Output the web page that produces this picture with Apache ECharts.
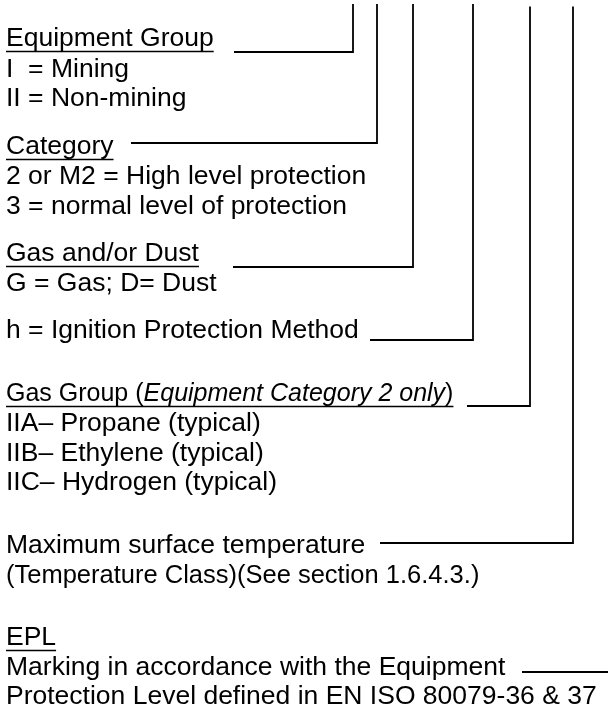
<!DOCTYPE html>
<html><head><meta charset="utf-8">
<script src="https://cdn.jsdelivr.net/npm/echarts@6/dist/echarts.min.js"></script>
<style>html,body{margin:0;padding:0;background:#fff}#main{width:608px;height:713px}</style>
</head><body><div id="main"></div>
<script>
// ---- diagram content ----
const rowTexts = [
  'Equipment Group',
  'I  = Mining',
  'II = Non-mining',
  'Category',
  '2 or M2 = High level protection',
  '3 = normal level of protection',
  'Gas and/or Dust',
  'G = Gas; D= Dust',
  'h = Ignition Protection Method',
  'Gas Group (Equipment Category 2 only)',
  'IIA\u2013 Propane (typical)',
  'IIB\u2013 Ethylene (typical)',
  'IIC\u2013 Hydrogen (typical)',
  'Maximum surface temperature',
  '(Temperature Class)(See section 1.6.4.3.)',
  'EPL',
  'Marking in accordance with the Equipment',
  'Protection Level defined in EN ISO 80079-36 & 37'
];
// text baselines in diagram units (0..713, top-down)
const rowBaselines = [48, 78.5, 107.5, 156, 186, 216, 263, 293, 340, 403, 433, 462.5, 492, 555, 585, 647, 677, 706];
const underlinedRows = [0, 3, 6, 9, 15];
const italicPhrases = ['Equipment Category 2 only'];
// leader lines: vertical from the top, then horizontal to the label
const connectorPaths = [
  [[353, 4], [353, 52], [234, 52]],
  [[377, 4], [377, 143], [131, 143]],
  [[413, 4], [413, 267], [233, 267]],
  [[473, 4], [473, 340], [370, 340]],
  [[530, 6.5], [530, 406], [467, 406]],
  [[573, 6.5], [573, 543], [380, 543]],
  [[522, 672], [608, 672]]
];

// ---- rendering ----
const FONT_SIZE = 26.5;
const SMALL_ROW_SIZE = { 9: 25, 14: 25.5 };
const FONT_FAMILY = '"Liberation Sans", Arial, sans-serif';
const TEXT_X = 6;
const measureCtx = document.createElement('canvas').getContext('2d');
function measure(str, size, italic) {
  measureCtx.font = (italic ? 'italic ' : '') + size + 'px ' + FONT_FAMILY;
  return measureCtx.measureText(str).width;
}
function buildRich(text, size) {
  for (const ph of italicPhrases) {
    const k = text.indexOf(ph);
    if (k >= 0) {
      const a = text.slice(0, k), b = text.slice(k + ph.length);
      return {
        str: '{n|' + a + '}{i|' + ph + '}{n|' + b + '}',
        width: measure(a, size) + measure(ph, size, true) + measure(b, size),
        rich: true
      };
    }
  }
  return { str: text, width: measure(text, size), rich: false };
}

const chart = echarts.init(document.getElementById('main'));
chart.setOption({
  animation: false,
  backgroundColor: '#fff',
  grid: { left: 0, right: 0, top: 0, bottom: 0 },
  xAxis: { type: 'value', min: 0, max: 608, show: false },
  yAxis: { type: 'value', min: 0, max: 713, inverse: true, show: false },
  series: [
    {
      type: 'lines',
      coordinateSystem: 'cartesian2d',
      polyline: true,
      silent: true,
      lineStyle: { color: '#000', width: 1.8, opacity: 1 },
      data: connectorPaths.map(c => ({ coords: c }))
    },
    {
      type: 'custom',
      coordinateSystem: 'cartesian2d',
      clip: false,
      silent: true,
      encode: { x: 0, y: 1 },
      data: rowTexts.map((t, i) => [TEXT_X, rowBaselines[i], i]),
      renderItem: function (params, api) {
        const idx = api.value(2);
        const size = SMALL_ROW_SIZE[idx] || FONT_SIZE;
        const p = api.coord([api.value(0), api.value(1)]);
        const info = buildRich(rowTexts[idx], size);
        const children = [{
          type: 'text',
          x: p[0],
          y: p[1] - size * 0.3465,
          style: {
            text: info.str,
            fill: '#000',
            fontSize: size,
            fontFamily: FONT_FAMILY,
            verticalAlign: 'middle',
            align: 'left',
            rich: info.rich ? {
              n: { fontSize: size, fontFamily: FONT_FAMILY, fill: '#000' },
              i: { fontSize: size, fontFamily: FONT_FAMILY, fontStyle: 'italic', fill: '#000' }
            } : undefined
          }
        }];
        if (underlinedRows.indexOf(idx) >= 0) {
          children.push({
            type: 'line',
            shape: { x1: p[0], y1: p[1] + 3.5, x2: p[0] + info.width, y2: p[1] + 3.5 },
            style: { stroke: '#000', lineWidth: 1.6 }
          });
        }
        return { type: 'group', children: children };
      }
    }
  ]
});
</script>
</body></html>
